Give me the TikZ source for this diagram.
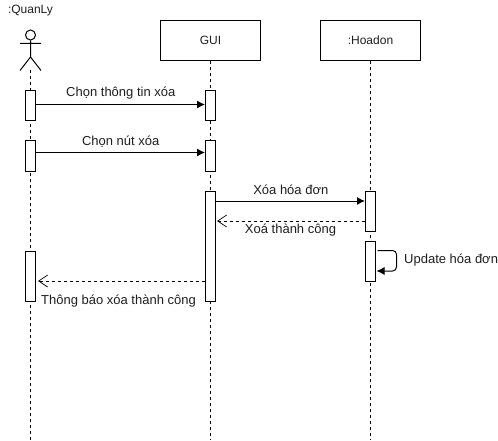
\documentclass[tikz,border=0pt]{standalone}
\usepackage{fontspec}
\setmainfont{Liberation Sans}
\usetikzlibrary{arrows.meta,positioning}
\tikzset{
  every node/.style={font=\fontsize{12}{14}\selectfont,text=black!88,inner sep=0pt},
  objbox/.style={draw,line width=1pt,fill=white,minimum width=100pt,minimum height=40pt},
  actbox/.style={draw,line width=1pt,fill=white,minimum width=10pt,anchor=north},
  lifeline/.style={line width=.9pt,dash pattern=on 3pt off 3pt},
  msg/.style={line width=1pt,-{Latex[length=8pt,width=8pt]}},
  reply/.style={line width=.9pt,dash pattern=on 3pt off 3pt,-{Straight Barb[length=9pt,width=12pt,line width=.7pt]}},
  actorline/.style={line width=1pt},
  msglabel/.style={font=\fontsize{13}{15}\selectfont}
}
\begin{document}
\begin{tikzpicture}[x=1pt,y=-1pt]
\useasboundingbox[fill=white] (0,0) rectangle (498,441);
% objects
\node[objbox] (gui) at (210.5,40.5) {GUI};
\node[objbox] (hoa) at (370.5,40.5) {:Hoadon};
\node (qlabel) at (30.5,11) {:QuanLy};
% actor
\node[draw,circle,line width=1pt,minimum size=10pt,fill=white] (head) at (30.5,35) {};
\coordinate (hip) at (30.5,57);
\coordinate (handl) at (20,43.5);
\coordinate (handr) at (41,43.5);
\coordinate (footl) at (20,70.5);
\coordinate (footr) at (41,70.5);
\draw[actorline] (head.south) -- (hip) (handl) -- (handr) (footl) -- (hip) -- (footr);
% lifeline ends
\coordinate (qstart) at (30.5,70.5);
\coordinate (qend) at (30.5,440);
\coordinate (gend) at (210.5,440);
\coordinate (hend) at (370.5,440);
\draw[lifeline] (qstart) -- (qend);
\draw[lifeline] (gui.south) -- (gend);
\draw[lifeline] (hoa.south) -- (hend);
% activations
\node[actbox,minimum height=30pt] (qa1) at (30.5,90.5) {};
\node[actbox,minimum height=30pt] (qa2) at (30.5,140.5) {};
\node[actbox,minimum height=50pt] (qa3) at (30.5,250.5) {};
\node[actbox,minimum height=30pt] (ga1) at (210.5,90.5) {};
\node[actbox,minimum height=30pt] (ga2) at (210.5,140.5) {};
\node[actbox,minimum height=110pt] (ga3) at (210.5,190.5) {};
\node[actbox,minimum height=40pt] (ha1) at (370.5,190.5) {};
\node[actbox,minimum height=40pt] (ha2) at (370.5,240.5) {};
% messages
\draw[msg] ([yshift=1.5pt]qa1.east) -- ([yshift=1.5pt]ga1.west);
\draw[msg] ([yshift=3.5pt]qa2.east) -- ([yshift=3.5pt]ga2.west);
\draw[msg] ([yshift=45pt]ga3.east) -- ([yshift=10pt]ha1.west);
\draw[reply] ([yshift=-10pt]ha1.west) -- ([yshift=25pt,xshift=1pt]ga3.east);
\draw[msg,rounded corners=4pt] ([xshift=1.5pt,yshift=10.5pt]ha2.east) -- ([xshift=20.5pt,yshift=10.5pt]ha2.east) -- ([xshift=20.5pt,yshift=-10pt]ha2.east) -- ([xshift=.5pt,yshift=-10pt]ha2.east);
\draw[reply] ([yshift=-35pt]ga3.west) -- ([yshift=-5pt,xshift=2pt]qa3.east);
% labels
\node[msglabel] (l1) at (120.8,93.5) {Chọn thông tin xóa};
\node[msglabel] (l2) at (120.7,141.5) {Chọn nút xóa};
\node[msglabel] (l3) at (290.8,190) {Xóa hóa đơn};
\node[msglabel] (l4) at (290.5,230.5) {Xoá thành công};
\node[msglabel,anchor=west] (l5) at (404,260.5) {Update hóa đơn};
\node[msglabel] (l6) at (118.5,301.5) {Thông báo xóa thành công};
\end{tikzpicture}
\end{document}
